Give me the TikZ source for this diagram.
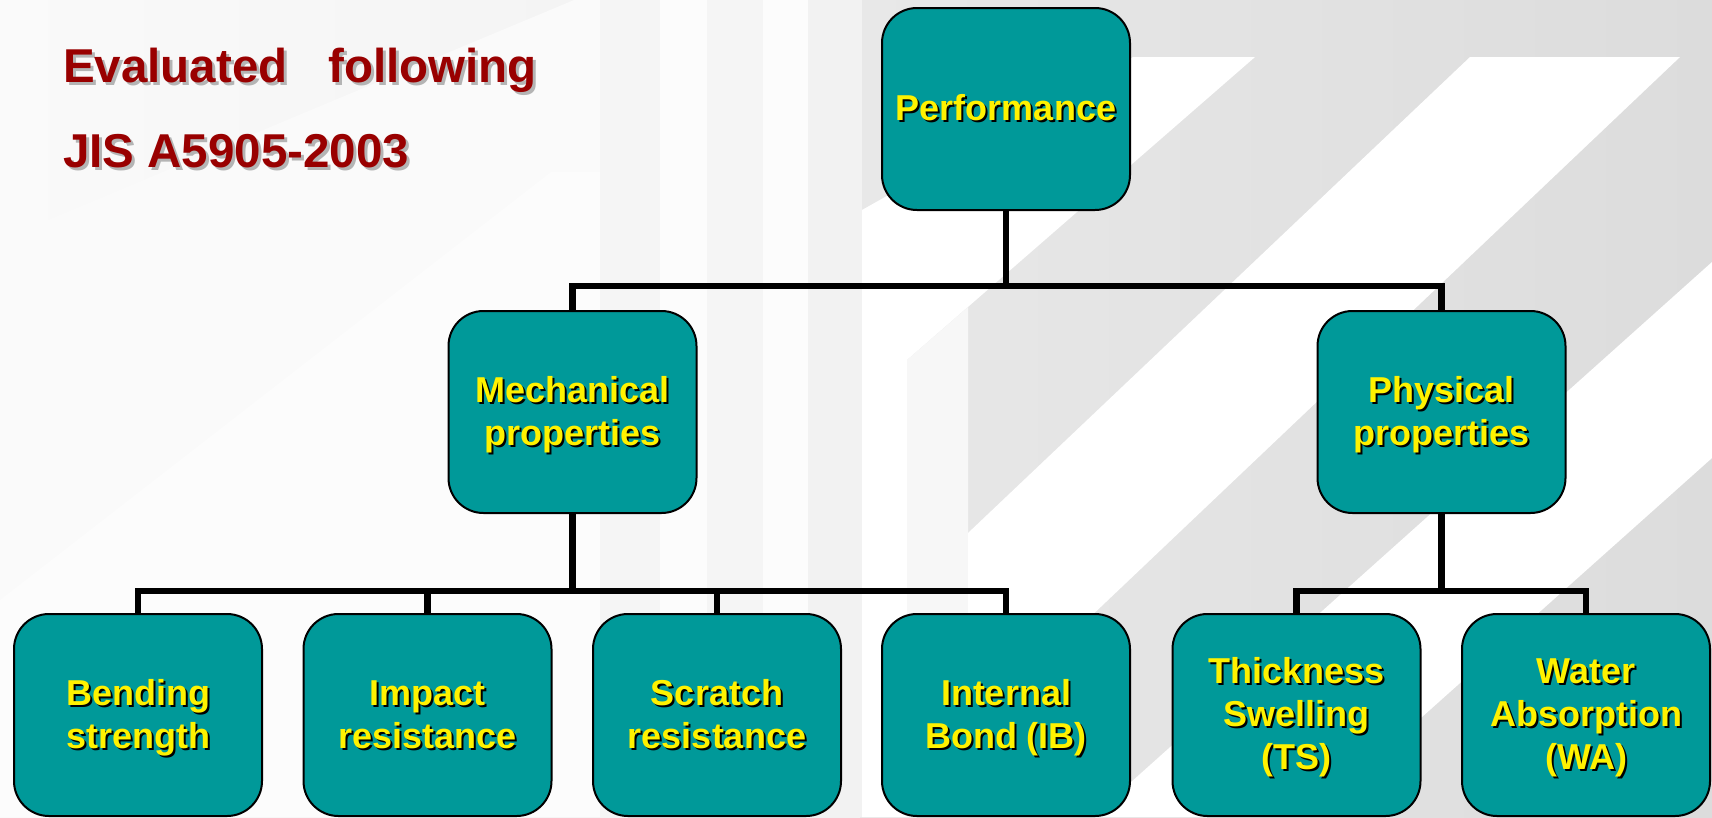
\documentclass[tikz,border=0pt]{standalone}
\usepackage{fontspec}
\setmainfont{Liberation Sans}
\definecolor{boxteal}{HTML}{009999}
\definecolor{titlered}{HTML}{990000}
\definecolor{titleshadow}{HTML}{B4B4B4}
\definecolor{bgleft}{HTML}{FAFAFA}
\definecolor{bgmid}{HTML}{F1F1F1}
\definecolor{bgrstart}{HTML}{E8E8E8}
\definecolor{bgright}{HTML}{DCDCDC}
\newcommand\shtab[1]{\begin{tabular}{@{}c@{}}#1\end{tabular}}
\newcommand\ylab[1]{\fontsize{36}{43}\selectfont\bfseries
  \raisebox{0pt}[\dimexpr\height+8pt\relax][\depth]{%
  \rlap{\kern2pt\raisebox{-2pt}{\color{black}\shtab{#1}}}{\color{yellow}\shtab{#1}}}}
\newcommand\tlab[1]{\rlap{\kern3pt\raisebox{-3pt}{\color{titleshadow}#1}}{\color{titlered}#1}}
\tikzset{
  box/.style={draw=black, line width=2pt, fill=boxteal, rounded corners=35pt,
    minimum width=248pt, minimum height=202pt, inner sep=0pt},
  conn/.style={draw=black, line width=6.5pt, line join=miter},
  ttl/.style={anchor=base west, inner sep=0pt, font=\fontsize{47.5}{50}\selectfont\bfseries},
  whiteband/.style={fill=white, draw=none},
}
\begin{document}
\begin{tikzpicture}[x=1pt, y=-1pt]
\useasboundingbox (0,0) rectangle (1712,817);
% background
\shade[left color=bgleft, right color=bgmid, draw=none] (0,0) rectangle (860,817);
\shade[left color=bgrstart, right color=bgright, draw=none] (860,0) rectangle (1712,817);
\fill[white!98!black] (0,240) -- (574,0) -- (600,0) -- (600,817) -- (0,817) -- cycle;
\fill[white!99!black] (0,600) -- (551,172) -- (600,172) -- (600,817) -- (0,817) -- cycle;
\fill[white!96!black] (600,0) rectangle (660,817);
\fill[white!99!black] (660,0) rectangle (707,817);
\fill[white!96!black] (707,0) rectangle (763,817);
\fill[white!99!black] (763,0) rectangle (808,817);
\fill[white!95!black] (808,0) rectangle (862,817);
\fill[whiteband] (1133,57) -- (1255,57) -- (907,360) -- (907,817) -- (862,817) -- (862,210) -- cycle;
\fill[white!97!black] (907,360) -- (968,307) -- (968,817) -- (907,817) -- cycle;
\fill[whiteband] (1470,57) -- (1680,57) -- (968,733) -- (968,533) -- cycle;
\fill[whiteband] (1712,262) -- (1712,458) -- (1310,817) -- (1092,817) -- cycle;
% title
\node[ttl] (t1) at (63,82) {\tlab{Evaluated\hspace{0.86em}following}};
\node[ttl] (t2) at (63,167) {\tlab{JIS A5905-2003}};
% boxes
\node[box] (perf) at (1006,109) {\ylab{Performance}};
\node[box] (mech) at (572.5,412) {\ylab{Mechanical\\properties}};
\node[box] (phys) at (1441.5,412) {\ylab{Physical\\properties}};
\node[box] (bend) at (138,715) {\ylab{Bending\\strength}};
\node[box] (impact) at (427.5,715) {\ylab{Impact\\resistance}};
\node[box] (scratch) at (717,715) {\ylab{Scratch\\resistance}};
\node[box] (ib) at (1006,715) {\ylab{Internal\\Bond (IB)}};
\node[box] (ts) at (1296.5,715) {\ylab{Thickness\\Swelling\\(TS)}};
\node[box] (wa) at (1586,715) {\ylab{Water\\Absorption\\(WA)}};
% bus coordinates
\coordinate (busA) at (0,286);
\coordinate (busB) at (0,591);
% connectors
\draw[conn] (perf.south) -- (perf.south |- busA);
\draw[conn] (mech.north) -- (mech.north |- busA) -- (phys.north |- busA) -- (phys.north);
\draw[conn] (mech.south) -- (mech.south |- busB);
\draw[conn] (bend.north) -- (bend.north |- busB) -- (ib.north |- busB) -- (ib.north);
\draw[conn] (impact.north) -- (impact.north |- busB);
\draw[conn] (scratch.north) -- (scratch.north |- busB);
\draw[conn] (phys.south) -- (phys.south |- busB);
\draw[conn] (ts.north) -- (ts.north |- busB) -- (wa.north |- busB) -- (wa.north);
\end{tikzpicture}
\end{document}
